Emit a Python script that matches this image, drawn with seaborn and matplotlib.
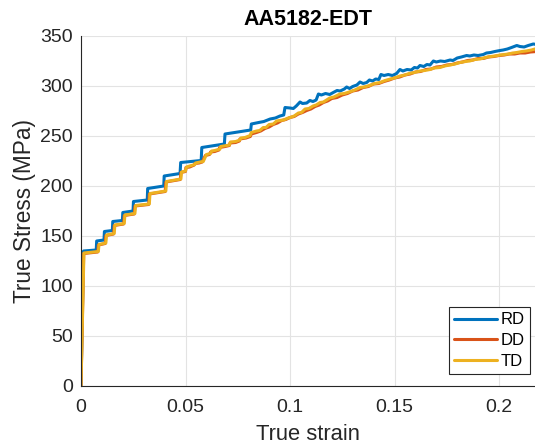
import matplotlib
matplotlib.use("Agg")
import matplotlib.pyplot as plt
import seaborn as sns
import pandas as pd

# ---------------- data ----------------
title = "AA5182-EDT"
xlabel = "True strain"
ylabel = "True Stress (MPa)"
labels = ["RD", "DD", "TD"]
colors = ["#0072BD", "#D95319", "#EDB120"]

# (true strain, true stress MPa)
rd_points = [
    (0.0, 0), (0.0012, 135), (0.0073, 136), (0.0075, 145), (0.0110, 146), (0.0112, 154.5),
    (0.0150, 155.5), (0.0152, 164.5), (0.0198, 165.5), (0.0200, 173.5), (0.0249, 175),
    (0.0251, 184.5), (0.0317, 186), (0.0319, 197.5), (0.0396, 200), (0.0398, 210),
    (0.0474, 212.5), (0.0477, 223.5), (0.0575, 225.5), (0.0578, 238.5), (0.0686, 242),
    (0.0689, 252), (0.0812, 256), (0.0815, 262), (0.0850, 263.5), (0.0875, 264.5),
    (0.0905, 267), (0.0930, 268), (0.0952, 270), (0.0970, 271), (0.0976, 278.5),
    (0.1000, 278), (0.1016, 277.5), (0.1030, 280), (0.1048, 284), (0.1060, 282.5),
    (0.1080, 283), (0.1095, 285.5), (0.1110, 284.5), (0.1125, 286), (0.1136, 292),
    (0.1150, 291), (0.1170, 292.5), (0.1190, 291.5), (0.1207, 293.5), (0.1225, 295.5),
    (0.1240, 295), (0.1260, 297), (0.1271, 299), (0.1285, 297.5), (0.1300, 299.5),
    (0.1320, 301), (0.1335, 304), (0.1350, 302.5), (0.1367, 303.5), (0.1380, 306),
    (0.1395, 305), (0.1410, 307), (0.1425, 306.5), (0.1435, 311.5), (0.1450, 310.5),
    (0.1470, 311.5), (0.1490, 310.5), (0.1510, 312.5), (0.1526, 316.5), (0.1540, 315),
    (0.1560, 316.5), (0.1580, 316), (0.1595, 318.5), (0.1610, 318), (0.1622, 320.5),
    (0.1640, 319.5), (0.1655, 321.5), (0.1670, 321), (0.1686, 325), (0.1700, 324),
    (0.1720, 325), (0.1740, 324.5), (0.1766, 326), (0.1780, 325.5), (0.1800, 328),
    (0.1820, 329), (0.1845, 330.5), (0.1860, 330), (0.1880, 331), (0.1900, 330.5),
    (0.1925, 331.5), (0.1940, 333), (0.1960, 333.5), (0.1980, 334.5), (0.2005, 335.5),
    (0.2020, 336), (0.2040, 337), (0.2060, 338.5), (0.2085, 340.5), (0.2100, 339.5),
    (0.2120, 339), (0.2140, 340.5), (0.2164, 342), (0.2180, 341.5),
]

dd_points = [
    (0.0, 0), (0.0013, 132.5), (0.0080, 134), (0.0083, 141), (0.0116, 142.5), (0.0119, 150.5),
    (0.0156, 152), (0.0159, 160.5), (0.0204, 162), (0.0207, 170.5), (0.0255, 172),
    (0.0258, 180), (0.0324, 181.5), (0.0327, 192), (0.0403, 194.5), (0.0406, 204),
    (0.0475, 206.5), (0.0478, 213.5), (0.0500, 214.5), (0.0502, 218.5), (0.0520, 219),
    (0.0542, 221), (0.0545, 222.5), (0.0565, 223), (0.0580, 224), (0.0595, 230.5),
    (0.0615, 231.5), (0.0620, 234), (0.0640, 234.5), (0.0660, 236), (0.0663, 238.5),
    (0.0690, 239.5), (0.0710, 240.5), (0.0713, 243), (0.0740, 243.5), (0.0758, 245),
    (0.0760, 247), (0.0790, 248), (0.0810, 249.5), (0.0815, 252), (0.0840, 253.5),
    (0.0860, 255), (0.0880, 257.5), (0.0900, 259), (0.0920, 261.5), (0.0940, 263),
    (0.0960, 265.5), (0.0980, 266.5), (0.1000, 268.5), (0.1020, 269.5), (0.1040, 272),
    (0.1060, 273.5), (0.1080, 275.5), (0.1100, 277), (0.1120, 279.5), (0.1140, 281),
    (0.1160, 283.5), (0.1180, 285), (0.1200, 287.5), (0.1225, 288.5), (0.1250, 291),
    (0.1275, 292.5), (0.1300, 295), (0.1325, 296), (0.1350, 298.5), (0.1375, 299.5),
    (0.1400, 302), (0.1425, 302.5), (0.1450, 304.5), (0.1475, 306), (0.1500, 308),
    (0.1525, 309), (0.1550, 311), (0.1575, 312), (0.1600, 314), (0.1625, 314.5),
    (0.1650, 316.5), (0.1675, 317), (0.1700, 319), (0.1725, 319.5), (0.1750, 321),
    (0.1775, 321.5), (0.1800, 323), (0.1825, 324), (0.1850, 325.5), (0.1875, 326),
    (0.1900, 327.5), (0.1925, 327.5), (0.1950, 329), (0.1975, 329.5), (0.2000, 330.5),
    (0.2025, 331), (0.2050, 332), (0.2075, 332), (0.2100, 333), (0.2125, 333),
    (0.2150, 334), (0.2180, 334.5),
]

td_points = [
    (0.0, 0), (0.0014, 133), (0.0083, 134.5), (0.0086, 141.5), (0.0119, 143), (0.0122, 151),
    (0.0159, 152.5), (0.0162, 161), (0.0207, 162.5), (0.0210, 171), (0.0258, 172.5),
    (0.0261, 180.5), (0.0327, 182), (0.0330, 192.5), (0.0406, 195), (0.0409, 204.5),
    (0.0478, 207), (0.0481, 214), (0.0500, 215), (0.0505, 219), (0.0520, 220),
    (0.0545, 221.5), (0.0548, 223), (0.0570, 224), (0.0585, 224.5), (0.0600, 231.5),
    (0.0620, 232.5), (0.0625, 235), (0.0640, 235.5), (0.0665, 237), (0.0668, 239.5),
    (0.0697, 240.5), (0.0710, 241), (0.0715, 244), (0.0740, 244.5), (0.0760, 246),
    (0.0765, 248), (0.0785, 248.5), (0.0809, 250.5), (0.0815, 253.5), (0.0840, 255),
    (0.0855, 255.5), (0.0872, 258.5), (0.0885, 258.5), (0.0900, 261.5), (0.0920, 262),
    (0.0936, 265), (0.0950, 265.5), (0.0970, 266), (0.0985, 267.5), (0.1000, 268.5),
    (0.1020, 270), (0.1040, 273), (0.1055, 273.5), (0.1072, 277), (0.1090, 277.5),
    (0.1110, 280), (0.1125, 281), (0.1144, 283.5), (0.1160, 284), (0.1190, 288),
    (0.1210, 289), (0.1239, 292), (0.1260, 292.5), (0.1290, 294.5), (0.1310, 296),
    (0.1335, 298.5), (0.1355, 299), (0.1380, 300.5), (0.1405, 302.5), (0.1430, 303.5),
    (0.1455, 305.5), (0.1480, 307), (0.1500, 308), (0.1526, 310), (0.1550, 311),
    (0.1570, 312.5), (0.1595, 313.5), (0.1622, 315), (0.1645, 315.5), (0.1670, 316.5),
    (0.1690, 318), (0.1718, 318.5), (0.1740, 320), (0.1765, 321), (0.1790, 322),
    (0.1813, 323.5), (0.1840, 324.5), (0.1860, 325), (0.1885, 326.5), (0.1909, 327),
    (0.1935, 328.5), (0.1960, 329.5), (0.1980, 330), (0.2005, 331), (0.2025, 331.5),
    (0.2045, 332), (0.2065, 333), (0.2085, 333.5), (0.2110, 334.5), (0.2130, 335),
    (0.2155, 336), (0.2180, 337.5),
]

xticks = [0, 0.05, 0.1, 0.15, 0.2]
xticklabels = ["0", "0.05", "0.1", "0.15", "0.2"]
yticks = [0, 50, 100, 150, 200, 250, 300, 350]

# ---------------- style ----------------
sns.set_theme(style="white")
plt.rcParams["font.family"] = ["Liberation Sans", "DejaVu Sans"]
axcol = "#262626"

fig = plt.figure(figsize=(5.35, 4.47), dpi=100)
ax = fig.add_axes([81 / 535, 61 / 447, 454 / 535, 350 / 447])

for pts, lab, col in zip([rd_points, dd_points, td_points], labels, colors):
    df = pd.DataFrame(pts, columns=["strain", "stress"])
    sns.lineplot(data=df, x="strain", y="stress", ax=ax, color=col, label=lab,
                 sort=False, estimator=None, linewidth=2.2)

ax.set_xlim(0, 454 / 2090)
ax.set_ylim(0, 350)
ax.set_xticks(xticks)
ax.set_xticklabels(xticklabels)
ax.set_yticks(yticks)
ax.grid(True, color="#e3e3e3", linewidth=0.8)
ax.set_axisbelow(True)

for side in ["top", "right"]:
    ax.spines[side].set_visible(False)
for side in ["left", "bottom"]:
    ax.spines[side].set_color(axcol)
    ax.spines[side].set_linewidth(0.8)

ax.tick_params(axis="both", direction="in", length=4, width=0.8, color=axcol,
               labelsize=14, labelcolor=axcol)
ax.tick_params(axis="x", pad=9)
ax.tick_params(axis="y", pad=6)

ax.set_xlabel(xlabel, fontsize=15.8, color=axcol, labelpad=6)
ax.set_ylabel(ylabel, fontsize=16.3, color=axcol, labelpad=3)
ax.set_title(title, fontsize=15.5, fontweight="bold", color="black", pad=8)

leg = ax.legend(loc="lower right", bbox_to_anchor=(0.989, 0.034), borderaxespad=0,
                fontsize=12, frameon=True, fancybox=False, framealpha=1,
                edgecolor=axcol, handlelength=2.6, handletextpad=0.25,
                labelspacing=0.35, borderpad=0.3)
leg.get_frame().set_linewidth(0.8)
for t in leg.get_texts():
    t.set_color("black")

fig.savefig("out.png", dpi=100)
